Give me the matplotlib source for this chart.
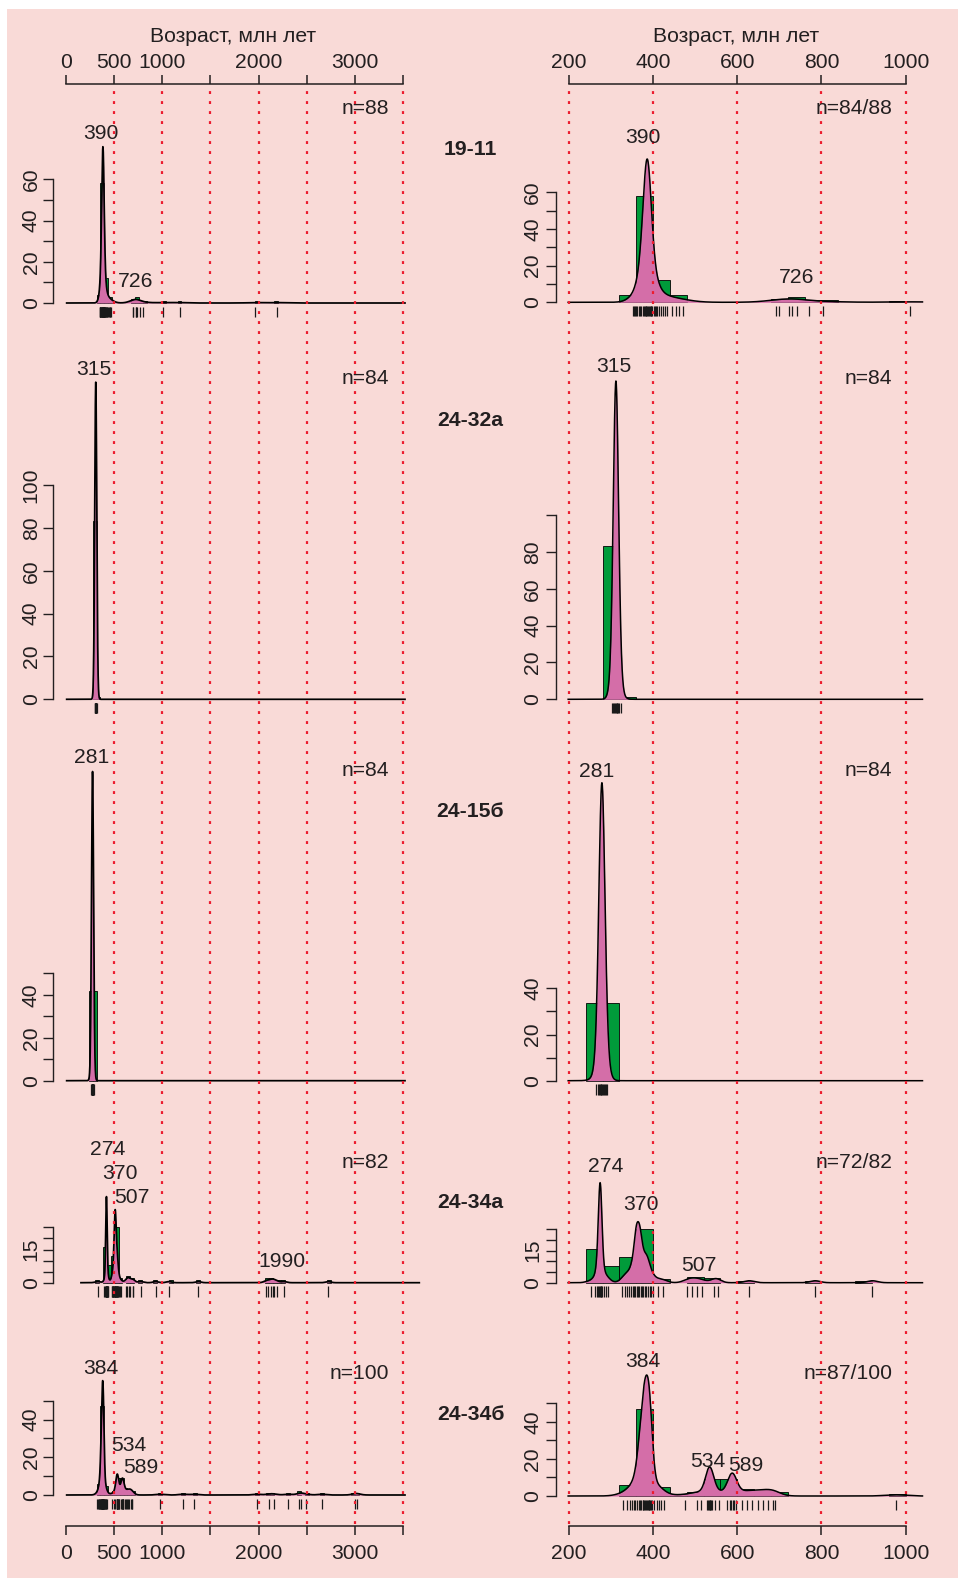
import numpy as np
import matplotlib
matplotlib.use("Agg")
import matplotlib.pyplot as plt
from matplotlib import transforms
from matplotlib.patches import Rectangle

plt.rcParams['font.family'] = ['Liberation Sans', 'DejaVu Sans']

W, H = 958, 1578
BG = '#f9dad7'
GREEN = '#009b3a'
PINK = '#d46ea8'
RED = '#ec1c2e'
INK = '#231f20'
FS = 15.2

# ---------------- data ----------------
samples = ['19-11', '24-32а', '24-15б', '24-34а', '24-34б']
n_left = ['n=88', 'n=84', 'n=84', 'n=82', 'n=100']
n_right = ['n=84/88', 'n=84', 'n=84', 'n=72/82', 'n=87/100']

# grain ages (Ma) and number of grains at each age
ages_1911 = [352, 355, 357, 359, 362, 366, 369, 372, 375, 378, 380, 382, 384, 386, 388, 390,
             392, 394, 396, 398, 401, 404, 407, 410, 414, 418, 423, 428, 434, 445, 455, 462,
             470, 693, 699, 724, 730, 741, 771, 803, 1010, 1180, 1960, 2188]
cnt_1911 = [1, 1, 1, 1, 1, 2, 2, 3, 4, 4, 5, 5, 6, 6, 6, 5,
            5, 4, 2, 2, 2, 2, 2, 1, 1, 1, 1, 1, 1, 1, 1, 1,
            1, 1, 1, 1, 1, 1, 1, 1, 1, 1, 1, 1]

ages_2432 = [302, 305, 307, 309, 311, 313, 315, 317, 319, 323]
cnt_2432 = [3, 6, 9, 13, 15, 14, 11, 7, 5, 1]

ages_2415 = [263, 268, 271, 273, 275, 277, 279, 281, 283, 285, 287, 290]
cnt_2415 = [1, 3, 5, 8, 11, 13, 13, 11, 8, 6, 3, 2]

ages_2434a = [183, 253, 262, 266, 269, 271, 273, 275, 277, 279, 283, 288, 293,
              327, 333, 338, 343, 347, 351, 355, 358, 361, 364, 367, 370, 373, 376, 380,
              384, 388, 392, 396, 400, 412, 423, 480, 492, 503, 517, 545, 553, 628, 785, 921,
              1226, 1924, 1951, 1976, 1997, 2013, 2044, 2114, 2573]
cnt_2434a = [1, 1, 1, 1, 2, 3, 4, 4, 3, 2, 1, 1, 1,
             1, 1, 1, 1, 1, 2, 2, 3, 3, 3, 3, 3, 2, 2, 2,
             2, 2, 1, 1, 1, 1, 1, 1, 1, 1, 1, 1, 1, 1, 1, 1,
             1, 1, 1, 1, 1, 1, 1, 1, 1]

ages_2434b = [328, 338, 345, 350, 355, 358,
              362, 366, 369, 372, 375, 377, 379, 381, 383, 385, 387, 389, 391, 393, 395, 398,
              403, 408, 413, 418, 425, 475, 505, 514,
              528, 531, 533, 534, 535, 537, 540, 548, 556,
              576, 582, 586, 589, 592, 597,
              610, 622, 635, 648, 660, 672, 684, 690, 976,
              1212, 1330, 1979, 2110, 2158, 2307, 2421, 2439, 2490, 2653, 2998, 3022]
cnt_2434b = [1, 1, 1, 1, 1, 1,
             2, 3, 3, 3, 3, 3, 3, 3, 3, 3, 3, 3, 3, 3, 3, 3,
             1, 1, 1, 1, 1, 1, 1, 1,
             1, 1, 1, 2, 1, 1, 1, 1, 1,
             1, 1, 2, 2, 1, 1,
             1, 1, 1, 1, 1, 1, 1, 1, 1,
             1, 1, 1, 1, 1, 1, 1, 1, 1, 1, 1, 1]

# histograms: left edges of 40 Ma bins and bar heights
bins_r_1911 = [320, 360, 400, 440, 680, 720, 760, 800, 960]
hist_r_1911 = [4, 58, 12, 4, 2, 3, 1, 1, 0.8]
bins_l_1911 = [320, 360, 400, 440, 680, 720, 760, 800, 1000, 1160, 1960, 2160]
hist_l_1911 = [4, 58, 12, 3, 2, 3, 1, 1, 1, 1, 1, 1]

bins_r_2432 = [280, 320]
hist_r_2432 = [83, 1]
bins_l_2432 = [280, 320]
hist_l_2432 = [83, 1]

bins_r_2415 = [240, 280]
hist_r_2415 = [33.5, 33.5]
bins_l_2415 = [240, 280]
hist_l_2415 = [42, 42]

bins_r_2434a = [240, 280, 320, 360, 400, 480, 520, 600, 760, 880]
hist_r_2434a = [16, 8, 12, 25, 1.7, 2.8, 2, 0.9, 1, 1]
bins_l_2434a = [160, 240, 280, 320, 360, 400, 480, 520, 600, 760, 920, 1200,
                1920, 1960, 2000, 2040, 2080, 2560]
hist_l_2434a = [1, 16, 8, 12, 25, 2, 3, 2, 1, 1, 1, 1, 2, 2, 1, 1, 1, 1]

bins_r_2434b = [320, 360, 400, 440, 480, 520, 560, 600, 640, 680, 960]
hist_r_2434b = [6, 47, 5, 1, 2, 9, 9, 3.6, 2.9, 2, 1]
bins_l_2434b = [320, 360, 400, 440, 480, 520, 560, 600, 640, 680, 960, 1200, 1320,
                1960, 2080, 2120, 2280, 2400, 2480, 2640, 2960, 3000]
hist_l_2434b = [6, 47, 5, 1, 2, 9, 9, 3.6, 2.9, 2, 1, 1, 1, 1, 1, 1, 1, 2, 1, 1, 1, 1]

# labelled KDE peaks and KDE maximum heights
peaks_left = [[390, 726], [315], [281], [274, 370, 507, 1990], [384, 534, 589]]
peaks_right = [[390, 726], [315], [281], [274, 370, 507], [384, 534, 589]]
kde_top_left = [75.8, 148, 144, 38.9, 60.6]
kde_top_right = [78.2, 172.7, 129, 46.9, 65.3]
bw_left = [15, 10, 10, 10, 13]
bw_right = [11, 5.5, 6.5, 5, 8]

ticks_top_left = [0, 500, 1000, 1500, 2000, 2500, 3000, 3500]
labels_top_left = ['0', '500', '1000', '', '2000', '', '3000', '']
ticks_top_right = [200, 400, 600, 800, 1000]
labels_top_right = ['200', '400', '600', '800', '1000']

ages_list = [(ages_1911, cnt_1911), (ages_2432, cnt_2432), (ages_2415, cnt_2415),
             (ages_2434a, cnt_2434a), (ages_2434b, cnt_2434b)]
hist_left = [(bins_l_1911, hist_l_1911), (bins_l_2432, hist_l_2432), (bins_l_2415, hist_l_2415),
             (bins_l_2434a, hist_l_2434a), (bins_l_2434b, hist_l_2434b)]
hist_right = [(bins_r_1911, hist_r_1911), (bins_r_2432, hist_r_2432), (bins_r_2415, hist_r_2415),
              (bins_r_2434a, hist_r_2434a), (bins_r_2434b, hist_r_2434b)]

# ---------------- layout (pixels) ----------------
base_left = [303, 699.3, 1080.7, 1282.7, 1495]
ppu_left = [2.062, 2.143, 2.147, 2.213, 1.887]
base_right = [302.3, 699.3, 1080.7, 1282.7, 1496]
ppu_right = [1.833, 1.843, 2.31, 2.133, 1.853]
shift_left = [0, 0, 0, 14.3, 0]
yticks_left = [(60, 10), (100, 20), (50, 10), (25, 5), (50, 10)]
ylab_left = [[0, 20, 40, 60], [0, 20, 40, 60, 80, 100], [0, 20, 40], [0, 15], [0, 20, 40]]
yticks_right = [(60, 10), (100, 20), (40, 10), (25, 5), (50, 10)]
ylab_right = [[0, 20, 40, 60], [0, 20, 40, 60, 80], [0, 20, 40], [0, 15], [0, 20, 40]]

plab_left = [[(100.8, 139.3), (135.3, 286.7)], [(94.2, 375)], [(91.7, 763.3)],
             [(107.5, 1155), (119.5, 1179), (132, 1202.7), (281.7, 1266.7)],
             [(100.8, 1374.3), (128.3, 1451), (140.8, 1473.3)]]
plab_right = [[(643.3, 143.3), (796.2, 283.3)], [(614.2, 371.7)], [(596.7, 776.7)],
              [(605.5, 1172.3), (641.2, 1210), (699.2, 1271)],
              [(643, 1366.7), (707.8, 1466.7), (745.8, 1470.7)]]
n_base = [114.3, 384.3, 776.3, 1167.7, 1379.3]
s_base = [155, 426, 817.3, 1208.3, 1420]

# column mapping: px = p0 + k * (x - x0)
COLS = {
    'L': dict(p0=65.7, k=0.0965, x0=0, yax=53.3, right=430, lab=36.7, nx=389.3,
              xr=(10, 3516)),
    'R': dict(p0=569.0, k=0.4208, x0=200, yax=556, right=935, lab=538.3, nx=892.3,
              xr=(198, 1040)),
}

fig = plt.figure(figsize=(W / 100, H / 100), dpi=100)
fig.patch.set_facecolor('white')
fig.add_artist(Rectangle((7 / W, 0), 1 - 7 / W, 1 - 9 / H, transform=fig.transFigure,
                         facecolor=BG, edgecolor='none', zorder=-10))


def box(l, t, r, b):
    return [l / W, 1 - b / H, (r - l) / W, (b - t) / H]


def ftext(x, y, s, **kw):
    kw.setdefault('ha', 'center')
    fig.text(x / W, 1 - y / H, s, va='baseline', fontsize=FS, color=INK, **kw)


def kde(x, vals, cnts, bw):
    a = np.repeat(np.asarray(vals, float), cnts)
    pil = np.exp(-0.5 * ((a[:, None] - a[None, :]) / bw) ** 2).sum(1) / (len(a) * bw)
    g = np.exp(np.log(pil).mean())
    h = bw * np.sqrt(g / pil)
    d = (np.exp(-0.5 * ((x[:, None] - a[None, :]) / h) ** 2) / h).mean(1)
    return d


def panel(col, i):
    c = COLS[col]
    if col == 'L':
        y0, ppu, top = base_left[i], ppu_left[i], kde_top_left[i]
        sh, bw, (bins, hts) = shift_left[i], bw_left[i], hist_left[i]
        (tmax, tstep), tl = yticks_left[i], ylab_left[i]
    else:
        y0, ppu, top = base_right[i], ppu_right[i], kde_top_right[i]
        sh, bw, (bins, hts) = 0, bw_right[i], hist_right[i]
        (tmax, tstep), tl = yticks_right[i], ylab_right[i]
    L, R = c['yax'], c['right']
    B, T = y0 + 22, y0 - top * ppu - 20
    ax = fig.add_axes(box(L, T, R, B))
    ax.set_facecolor('none')
    ax.set_xlim(c['x0'] + (L - c['p0'] - sh) / c['k'], c['x0'] + (R - c['p0'] - sh) / c['k'])
    ax.set_ylim(-(B - y0) / ppu, (y0 - T) / ppu)
    for s in ['top', 'right', 'bottom']:
        ax.spines[s].set_visible(False)
    ax.spines['left'].set_bounds(0, tmax)
    ax.spines['left'].set_linewidth(1.0)
    ax.spines['left'].set_color(INK)
    ax.set_xticks([])
    ax.set_yticks(np.arange(0, tmax + 0.1, tstep))
    ax.set_yticklabels([])
    ax.tick_params(axis='y', direction='out', length=7.2, width=1.0, color=INK)
    xf = (c['lab'] - L) / (R - L)
    for t in tl:
        ax.text(xf, t, str(t), transform=ax.get_yaxis_transform(), rotation=90,
                rotation_mode='anchor', ha='center', va='baseline', fontsize=FS, color=INK)

    vals, cnts = ages_list[i]
    vals = np.asarray(vals, float)
    cnts = np.asarray(cnts)
    if col == 'R':
        keep = (vals >= 200) & (vals <= 1050)
        vals, cnts = vals[keep], cnts[keep]
    ax.bar(bins, hts, width=40, align='edge', color=GREEN, edgecolor='black',
           linewidth=0.6, zorder=2)
    x = np.linspace(c['xr'][0], c['xr'][1], 5000)
    y = kde(x, vals, cnts, bw)
    y = y / y.max() * top
    ax.fill_between(x, 0, y, color=PINK, linewidth=0, zorder=3)
    ax.plot(x, y, color='black', lw=1.25 if col == 'L' else 1.1, zorder=4,
            solid_joinstyle='round')
    ax.vlines(vals, -14 / ppu, -3.5 / ppu, color='#1a1a1a', lw=0.9, zorder=4)
    return ax


for i in range(5):
    panel('L', i)
    panel('R', i)
    for p, (px, py) in zip(peaks_left[i], plab_left[i]):
        ftext(px, py, str(p))
    for p, (px, py) in zip(peaks_right[i], plab_right[i]):
        ftext(px, py, str(p))
    ftext(COLS['L']['nx'], n_base[i], n_left[i], ha='right')
    ftext(COLS['R']['nx'], n_base[i], n_right[i], ha='right')
    ftext(470.5, s_base[i], samples[i], fontweight='bold')

# age axes on top and bottom, red reference lines
AX_T, AX_B = 84.3, 1526
for col, ticks, labs, lines, (l, r) in [
        ('L', ticks_top_left, labels_top_left, ticks_top_left[1:], (58, 418)),
        ('R', ticks_top_right, labels_top_right, ticks_top_right, (562, 915))]:
    c = COLS[col]
    ax = fig.add_axes(box(l, AX_T, r, AX_B))
    ax.set_facecolor('none')
    ax.set_xlim(c['x0'] + (l - c['p0']) / c['k'], c['x0'] + (r - c['p0']) / c['k'])
    ax.set_ylim(0, 1)
    ax.spines['left'].set_visible(False)
    ax.spines['right'].set_visible(False)
    for s in ['top', 'bottom']:
        ax.spines[s].set_bounds(ticks[0], ticks[-1])
        ax.spines[s].set_linewidth(1.1)
        ax.spines[s].set_color(INK)
    ax.set_yticks([])
    ax.set_xticks(ticks)
    ax.xaxis.set_ticks_position('both')
    ax.tick_params(axis='x', direction='out', length=6.7, width=1.1, color=INK,
                   labelbottom=False, labeltop=False)
    ax.vlines(lines, 0.0015, 0.998, color=RED, lw=1.6, linestyles=[(0, (1.3, 3.2))], zorder=5)
    tr = transforms.blended_transform_factory(ax.transData, fig.transFigure)
    for t, s in zip(ticks, labs):
        if s:
            ax.text(t, 1 - 68.3 / H, s, transform=tr, ha='center', va='baseline',
                    fontsize=FS, color=INK)
            ax.text(t, 1 - 1559.3 / H, s, transform=tr, ha='center', va='baseline',
                    fontsize=FS, color=INK)

ftext(233.3, 41.7, 'Возраст, млн лет')
ftext(736, 41.7, 'Возраст, млн лет')

fig.savefig('out.png', dpi=100, facecolor=fig.get_facecolor())
